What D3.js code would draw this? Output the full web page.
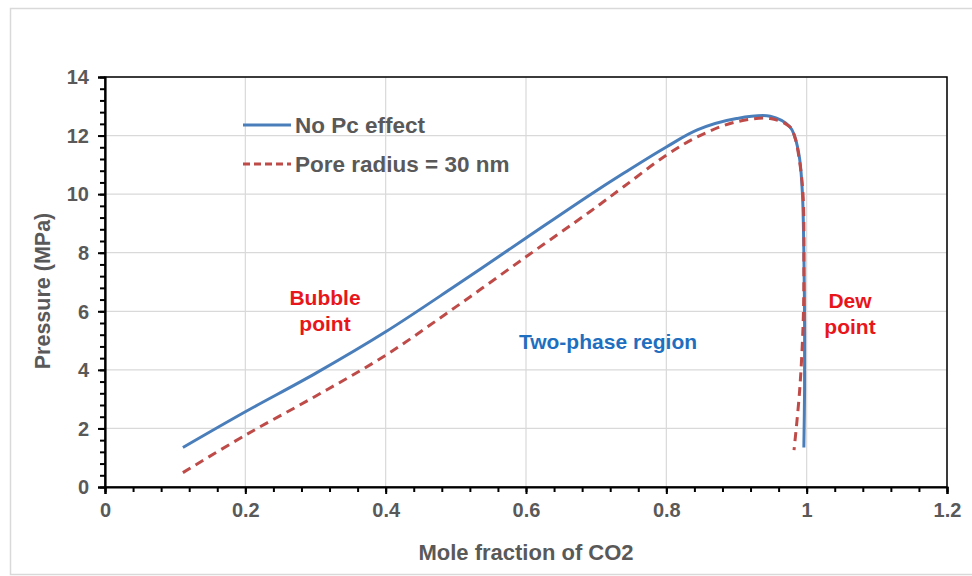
<!DOCTYPE html>
<html>
<head>
<meta charset="utf-8">
<script src="https://cdn.jsdelivr.net/npm/d3@7"></script>
<style>
  html, body { margin: 0; padding: 0; background: #fff; }
  svg { display: block; font-family: "Liberation Sans", Arial, sans-serif; }
</style>
</head>
<body>
<svg id="chart" width="972" height="576"></svg>
<script>
// ---- data ----
const noPcX = [0.111, 0.2, 0.3, 0.4, 0.5, 0.6, 0.691, 0.739, 0.8, 0.845, 0.9, 0.948, 0.976, 0.983, 0.990, 0.994, 0.996, 0.997, 0.997, 0.996];
const noPcY = [1.35, 2.57, 3.88, 5.3, 6.88, 8.5, 9.97, 10.71, 11.61, 12.2, 12.58, 12.66, 12.3, 11.96, 11.2, 10.0, 8.0, 5.6, 3.3, 1.35];
const poreX = [0.111, 0.2, 0.3, 0.4, 0.5, 0.6, 0.691, 0.739, 0.8, 0.848, 0.9, 0.948, 0.976, 0.983, 0.990, 0.995, 0.996, 0.995, 0.990, 0.982];
const poreY = [0.49, 1.77, 3.1, 4.5, 6.15, 7.86, 9.4, 10.25, 11.33, 12.0, 12.47, 12.58, 12.3, 11.96, 11.1, 9.9, 7.5, 5.6, 3.3, 1.26];
const seriesNames = ["No Pc effect", "Pore radius = 30 nm"];
const xTicks = [0, 0.2, 0.4, 0.6, 0.8, 1, 1.2];
const yTicks = [0, 2, 4, 6, 8, 10, 12, 14];
const xMinorTicks = d3.range(0, 1.2001, 0.04);
const yMinorTicks = d3.range(0, 14.001, 0.4);

// ---- layout ----
const svg = d3.select("#chart");
const pLeft = 105, pRight = 947, pTop = 77, pBottom = 487;
const x = d3.scaleLinear().domain([0, 1.2]).range([pLeft, pRight]);
const y = d3.scaleLinear().domain([0, 14]).range([pBottom, pTop]);
const gray = "#595959";

// outer chart frame
svg.append("rect").attr("x", 10.5).attr("y", 8.5).attr("width", 975).attr("height", 566)
  .attr("fill", "#fff").attr("stroke", "#d9d9d9").attr("stroke-width", 1.5);

// gridlines
svg.append("g").selectAll("line").data(yTicks.slice(1)).join("line")
  .attr("x1", pLeft).attr("x2", pRight).attr("y1", d => y(d)).attr("y2", d => y(d))
  .attr("stroke", "#d9d9d9").attr("stroke-width", 1.2);
svg.append("g").selectAll("line").data(xTicks.slice(1)).join("line")
  .attr("y1", pTop).attr("y2", pBottom).attr("x1", d => x(d)).attr("x2", d => x(d))
  .attr("stroke", "#d9d9d9").attr("stroke-width", 1.2);

// plot border
svg.append("rect").attr("x", pLeft).attr("y", pTop).attr("width", pRight - pLeft).attr("height", pBottom - pTop)
  .attr("fill", "none").attr("stroke", "#000").attr("stroke-width", 1.5);

// minor ticks
const xMinor = d3.axisBottom(x).tickValues(xMinorTicks).tickSize(5).tickFormat("");
const yMinor = d3.axisLeft(y).tickValues(yMinorTicks).tickSize(5).tickFormat("");
const gxm = svg.append("g").attr("transform", `translate(0,${pBottom})`).call(xMinor);
const gym = svg.append("g").attr("transform", `translate(${pLeft},0)`).call(yMinor);
[gxm, gym].forEach(g => {
  g.select(".domain").remove();
  g.selectAll("line").attr("stroke", "#000").attr("stroke-width", 2);
});

// major axes
const xAxis = d3.axisBottom(x).tickValues(xTicks).tickSize(7).tickPadding(9).tickFormat(d3.format("~g"));
const yAxis = d3.axisLeft(y).tickValues(yTicks).tickSize(7).tickPadding(9).tickFormat(d3.format("~g"));
const gx = svg.append("g").attr("transform", `translate(0,${pBottom})`).call(xAxis);
const gy = svg.append("g").attr("transform", `translate(${pLeft},0)`).call(yAxis);
[gx, gy].forEach(g => {
  g.select(".domain").attr("stroke", "#000").attr("stroke-width", 2.2);
  g.selectAll("line").attr("stroke", "#000").attr("stroke-width", 2);
  g.selectAll("text").attr("fill", gray).attr("font-size", 20).attr("font-weight", "bold")
    .attr("font-family", "'Liberation Sans', Arial, sans-serif");
});
gy.selectAll("text").attr("dy", "0.34em");

// axis titles
svg.append("text").attr("x", (pLeft + pRight) / 2).attr("y", 560).attr("text-anchor", "middle")
  .attr("fill", gray).attr("font-size", 22).attr("font-weight", "bold").text("Mole fraction of CO2");
svg.append("text").attr("transform", `translate(50,${(pTop + pBottom) / 2 + 9}) rotate(-90)`)
  .attr("text-anchor", "middle").attr("fill", gray).attr("font-size", 21.5).attr("font-weight", "bold")
  .text("Pressure (MPa)");

// lines
const line = d3.line().x(d => x(d[0])).y(d => y(d[1])).curve(d3.curveCatmullRom.alpha(0.5));
const blueData = noPcX.map((v, i) => [v, noPcY[i]]);
const redData = poreX.map((v, i) => [v, poreY[i]]);
svg.append("path").datum(blueData).attr("d", line).attr("fill", "none")
  .attr("stroke", "#4a7ebb").attr("stroke-width", 3).attr("stroke-linejoin", "round");
svg.append("path").datum(redData).attr("d", line).attr("fill", "none")
  .attr("stroke", "#be4b48").attr("stroke-width", 3).attr("stroke-dasharray", "9,6");

// legend
const legend = svg.append("g");
const legItems = [
  { name: seriesNames[0], color: "#4a7ebb", dash: null, yy: 125 },
  { name: seriesNames[1], color: "#be4b48", dash: "7,4", yy: 164 }
];
legItems.forEach(it => {
  legend.append("line").attr("x1", 243).attr("x2", 291).attr("y1", it.yy).attr("y2", it.yy)
    .attr("stroke", it.color).attr("stroke-width", 3).attr("stroke-dasharray", it.dash);
  legend.append("text").attr("x", 295).attr("y", it.yy).attr("dy", "0.35em")
    .attr("fill", gray).attr("font-size", 22.5).attr("font-weight", "bold").text(it.name);
});

// annotations
const ann = [
  { lines: ["Bubble", "point"], x: 325, y: 298, color: "#e8161b" },
  { lines: ["Dew", "point"], x: 850, y: 301, color: "#e8161b" },
  { lines: ["Two-phase region"], x: 608, y: 342, color: "#1f6fc0" }
];
ann.forEach(a => {
  const t = svg.append("text").attr("text-anchor", "middle").attr("fill", a.color)
    .attr("font-size", 21).attr("font-weight", "bold");
  a.lines.forEach((l, i) => t.append("tspan").attr("x", a.x).attr("y", a.y + i * 26).attr("dy", "0.35em").text(l));
});
</script>
</body>
</html>
